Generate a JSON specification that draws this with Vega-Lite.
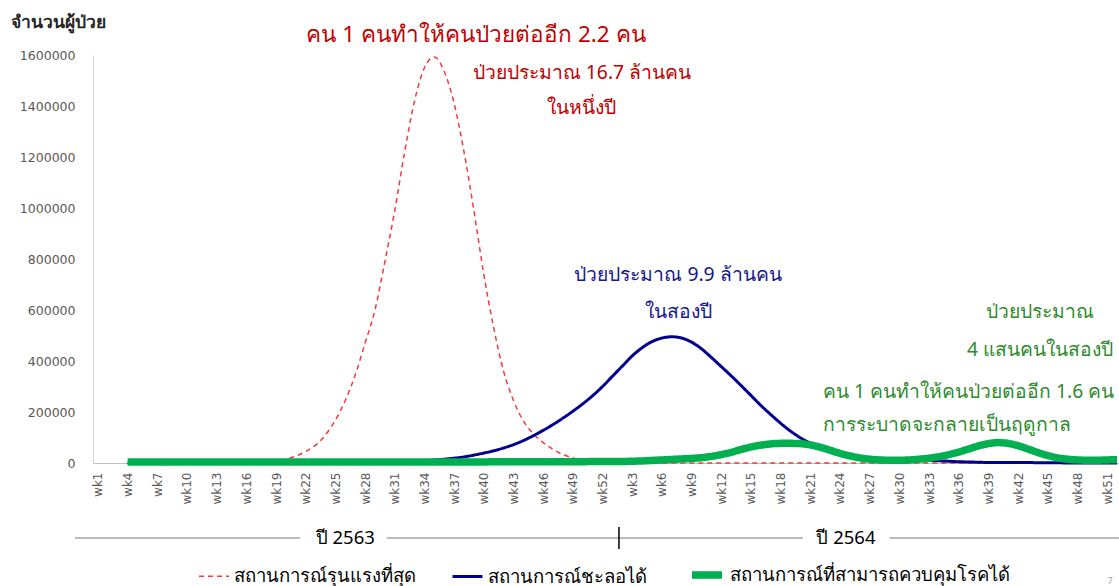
{
  "$schema": "https://vega.github.io/schema/vega-lite/v6.json",
  "width": 1026,
  "height": 408,
  "autosize": {"type": "none"},
  "padding": {"left": 93, "top": 55, "right": 0, "bottom": 123},
  "background": "white",
  "config": {"view": {"stroke": null}, "font": "Noto Sans"},
  "datasets": {
    "weekly": [
      {"t":4,"สถานการณ์รุนแรงที่สุด":0,"สถานการณ์ชะลอได้":0,"สถานการณ์ที่สามารถควบคุมโรคได้":4000},
      {"t":5,"สถานการณ์รุนแรงที่สุด":0,"สถานการณ์ชะลอได้":0,"สถานการณ์ที่สามารถควบคุมโรคได้":4000},
      {"t":6,"สถานการณ์รุนแรงที่สุด":0,"สถานการณ์ชะลอได้":0,"สถานการณ์ที่สามารถควบคุมโรคได้":4000},
      {"t":7,"สถานการณ์รุนแรงที่สุด":0,"สถานการณ์ชะลอได้":0,"สถานการณ์ที่สามารถควบคุมโรคได้":4000},
      {"t":8,"สถานการณ์รุนแรงที่สุด":0,"สถานการณ์ชะลอได้":0,"สถานการณ์ที่สามารถควบคุมโรคได้":4000},
      {"t":9,"สถานการณ์รุนแรงที่สุด":0,"สถานการณ์ชะลอได้":0,"สถานการณ์ที่สามารถควบคุมโรคได้":4000},
      {"t":10,"สถานการณ์รุนแรงที่สุด":0,"สถานการณ์ชะลอได้":0,"สถานการณ์ที่สามารถควบคุมโรคได้":4000},
      {"t":11,"สถานการณ์รุนแรงที่สุด":0,"สถานการณ์ชะลอได้":0,"สถานการณ์ที่สามารถควบคุมโรคได้":4000},
      {"t":12,"สถานการณ์รุนแรงที่สุด":0,"สถานการณ์ชะลอได้":0,"สถานการณ์ที่สามารถควบคุมโรคได้":4000},
      {"t":13,"สถานการณ์รุนแรงที่สุด":0,"สถานการณ์ชะลอได้":0,"สถานการณ์ที่สามารถควบคุมโรคได้":4000},
      {"t":14,"สถานการณ์รุนแรงที่สุด":0,"สถานการณ์ชะลอได้":0,"สถานการณ์ที่สามารถควบคุมโรคได้":4000},
      {"t":15,"สถานการณ์รุนแรงที่สุด":1000,"สถานการณ์ชะลอได้":0,"สถานการณ์ที่สามารถควบคุมโรคได้":4000},
      {"t":16,"สถานการณ์รุนแรงที่สุด":2000,"สถานการณ์ชะลอได้":0,"สถานการณ์ที่สามารถควบคุมโรคได้":4000},
      {"t":17,"สถานการณ์รุนแรงที่สุด":3000,"สถานการณ์ชะลอได้":0,"สถานการณ์ที่สามารถควบคุมโรคได้":4000},
      {"t":18,"สถานการณ์รุนแรงที่สุด":5000,"สถานการณ์ชะลอได้":0,"สถานการณ์ที่สามารถควบคุมโรคได้":4000},
      {"t":19,"สถานการณ์รุนแรงที่สุด":9000,"สถานการณ์ชะลอได้":0,"สถานการณ์ที่สามารถควบคุมโรคได้":4000},
      {"t":20,"สถานการณ์รุนแรงที่สุด":15000,"สถานการณ์ชะลอได้":0,"สถานการณ์ที่สามารถควบคุมโรคได้":4000},
      {"t":21,"สถานการณ์รุนแรงที่สุด":27000,"สถานการณ์ชะลอได้":0,"สถานการณ์ที่สามารถควบคุมโรคได้":4000},
      {"t":22,"สถานการณ์รุนแรงที่สุด":45000,"สถานการณ์ชะลอได้":0,"สถานการณ์ที่สามารถควบคุมโรคได้":4000},
      {"t":23,"สถานการณ์รุนแรงที่สุด":70000,"สถานการณ์ชะลอได้":0,"สถานการณ์ที่สามารถควบคุมโรคได้":4000},
      {"t":24,"สถานการณ์รุนแรงที่สุด":110000,"สถานการณ์ชะลอได้":0,"สถานการณ์ที่สามารถควบคุมโรคได้":4000},
      {"t":25,"สถานการณ์รุนแรงที่สุด":168000,"สถานการณ์ชะลอได้":0,"สถานการณ์ที่สามารถควบคุมโรคได้":4000},
      {"t":26,"สถานการณ์รุนแรงที่สุด":245000,"สถานการณ์ชะลอได้":0,"สถานการณ์ที่สามารถควบคุมโรคได้":4000},
      {"t":27,"สถานการณ์รุนแรงที่สุด":345000,"สถานการณ์ชะลอได้":0,"สถานการณ์ที่สามารถควบคุมโรคได้":4000},
      {"t":28,"สถานการณ์รุนแรงที่สุด":470000,"สถานการณ์ชะลอได้":1000,"สถานการณ์ที่สามารถควบคุมโรคได้":4000},
      {"t":29,"สถานการณ์รุนแรงที่สุด":600000,"สถานการณ์ชะลอได้":2000,"สถานการณ์ที่สามารถควบคุมโรคได้":4000},
      {"t":30,"สถานการณ์รุนแรงที่สุด":790000,"สถานการณ์ชะลอได้":3000,"สถานการณ์ที่สามารถควบคุมโรคได้":4000},
      {"t":31,"สถานการณ์รุนแรงที่สุด":990000,"สถานการณ์ชะลอได้":4000,"สถานการณ์ที่สามารถควบคุมโรคได้":4000},
      {"t":32,"สถานการณ์รุนแรงที่สุด":1220000,"สถานการณ์ชะลอได้":5000,"สถานการณ์ที่สามารถควบคุมโรคได้":4000},
      {"t":33,"สถานการณ์รุนแรงที่สุด":1420000,"สถานการณ์ชะลอได้":7000,"สถานการณ์ที่สามารถควบคุมโรคได้":4000},
      {"t":34,"สถานการณ์รุนแรงที่สุด":1550000,"สถานการณ์ชะลอได้":9000,"สถานการณ์ที่สามารถควบคุมโรคได้":4000},
      {"t":35,"สถานการณ์รุนแรงที่สุด":1592000,"สถานการณ์ชะลอได้":12000,"สถานการณ์ที่สามารถควบคุมโรคได้":4000},
      {"t":36,"สถานการณ์รุนแรงที่สุด":1535000,"สถานการณ์ชะลอได้":15000,"สถานการณ์ที่สามารถควบคุมโรคได้":4000},
      {"t":37,"สถานการณ์รุนแรงที่สุด":1410000,"สถานการณ์ชะลอได้":19000,"สถานการณ์ที่สามารถควบคุมโรคได้":4000},
      {"t":38,"สถานการณ์รุนแรงที่สุด":1220000,"สถานการณ์ชะลอได้":24000,"สถานการณ์ที่สามารถควบคุมโรคได้":4000},
      {"t":39,"สถานการณ์รุนแรงที่สุด":990000,"สถานการณ์ชะลอได้":31000,"สถานการณ์ที่สามารถควบคุมโรคได้":4000},
      {"t":40,"สถานการณ์รุนแรงที่สุด":740000,"สถานการณ์ชะลอได้":39000,"สถานการณ์ที่สามารถควบคุมโรคได้":4000},
      {"t":41,"สถานการณ์รุนแรงที่สุด":530000,"สถานการณ์ชะลอได้":48000,"สถานการณ์ที่สามารถควบคุมโรคได้":5000},
      {"t":42,"สถานการณ์รุนแรงที่สุด":360000,"สถานการณ์ชะลอได้":59000,"สถานการณ์ที่สามารถควบคุมโรคได้":5000},
      {"t":43,"สถานการณ์รุนแรงที่สุด":245000,"สถานการณ์ชะลอได้":72000,"สถานการณ์ที่สามารถควบคุมโรคได้":5000},
      {"t":44,"สถานการณ์รุนแรงที่สุด":165000,"สถานการณ์ชะลอได้":88000,"สถานการณ์ที่สามารถควบคุมโรคได้":5000},
      {"t":45,"สถานการณ์รุนแรงที่สุด":115000,"สถานการณ์ชะลอได้":107000,"สถานการณ์ที่สามารถควบคุมโรคได้":5000},
      {"t":46,"สถานการณ์รุนแรงที่สุด":80000,"สถานการณ์ชะลอได้":128000,"สถานการณ์ที่สามารถควบคุมโรคได้":5000},
      {"t":47,"สถานการณ์รุนแรงที่สุด":53000,"สถานการณ์ชะลอได้":151000,"สถานการณ์ที่สามารถควบคุมโรคได้":5000},
      {"t":48,"สถานการณ์รุนแรงที่สุด":33000,"สถานการณ์ชะลอได้":176000,"สถานการณ์ที่สามารถควบคุมโรคได้":5000},
      {"t":49,"สถานการณ์รุนแรงที่สุด":20000,"สถานการณ์ชะลอได้":203000,"สถานการณ์ที่สามารถควบคุมโรคได้":5000},
      {"t":50,"สถานการณ์รุนแรงที่สุด":12000,"สถานการณ์ชะลอได้":232000,"สถานการณ์ที่สามารถควบคุมโรคได้":5000},
      {"t":51,"สถานการณ์รุนแรงที่สุด":6000,"สถานการณ์ชะลอได้":264000,"สถานการณ์ที่สามารถควบคุมโรคได้":6000},
      {"t":52,"สถานการณ์รุนแรงที่สุด":3000,"สถานการณ์ชะลอได้":300000,"สถานการณ์ที่สามารถควบคุมโรคได้":6000},
      {"t":53,"สถานการณ์รุนแรงที่สุด":1000,"สถานการณ์ชะลอได้":340000,"สถานการณ์ที่สามารถควบคุมโรคได้":6000},
      {"t":54,"สถานการณ์รุนแรงที่สุด":0,"สถานการณ์ชะลอได้":380000,"สถานการณ์ที่สามารถควบคุมโรคได้":6000},
      {"t":55,"สถานการณ์รุนแรงที่สุด":0,"สถานการณ์ชะลอได้":420000,"สถานการณ์ที่สามารถควบคุมโรคได้":7000},
      {"t":56,"สถานการณ์รุนแรงที่สุด":0,"สถานการณ์ชะลอได้":452000,"สถานการณ์ที่สามารถควบคุมโรคได้":8000},
      {"t":57,"สถานการณ์รุนแรงที่สุด":0,"สถานการณ์ชะลอได้":476000,"สถานการณ์ที่สามารถควบคุมโรคได้":10000},
      {"t":58,"สถานการณ์รุนแรงที่สุด":0,"สถานการณ์ชะลอได้":490000,"สถานการณ์ที่สามารถควบคุมโรคได้":12000},
      {"t":59,"สถานการณ์รุนแรงที่สุด":0,"สถานการณ์ชะลอได้":495000,"สถานการณ์ที่สามารถควบคุมโรคได้":14000},
      {"t":60,"สถานการณ์รุนแรงที่สุด":0,"สถานการณ์ชะลอได้":490000,"สถานการณ์ที่สามารถควบคุมโรคได้":16000},
      {"t":61,"สถานการณ์รุนแรงที่สุด":0,"สถานการณ์ชะลอได้":474000,"สถานการณ์ที่สามารถควบคุมโรคได้":18000},
      {"t":62,"สถานการณ์รุนแรงที่สุด":0,"สถานการณ์ชะลอได้":448000,"สถานการณ์ที่สามารถควบคุมโรคได้":21000},
      {"t":63,"สถานการณ์รุนแรงที่สุด":0,"สถานการณ์ชะลอได้":414000,"สถานการณ์ที่สามารถควบคุมโรคได้":26000},
      {"t":64,"สถานการณ์รุนแรงที่สุด":0,"สถานการณ์ชะลอได้":378000,"สถานการณ์ที่สามารถควบคุมโรคได้":33000},
      {"t":65,"สถานการณ์รุนแรงที่สุด":0,"สถานการณ์ชะลอได้":342000,"สถานการณ์ที่สามารถควบคุมโรคได้":42000},
      {"t":66,"สถานการณ์รุนแรงที่สุด":0,"สถานการณ์ชะลอได้":304000,"สถานการณ์ที่สามารถควบคุมโรคได้":53000},
      {"t":67,"สถานการณ์รุนแรงที่สุด":0,"สถานการณ์ชะลอได้":265000,"สถานการณ์ที่สามารถควบคุมโรคได้":63000},
      {"t":68,"สถานการณ์รุนแรงที่สุด":0,"สถานการณ์ชะลอได้":226000,"สถานการณ์ที่สามารถควบคุมโรคได้":70000},
      {"t":69,"สถานการณ์รุนแรงที่สุด":0,"สถานการณ์ชะลอได้":190000,"สถานการณ์ที่สามารถควบคุมโรคได้":75000},
      {"t":70,"สถานการณ์รุนแรงที่สุด":0,"สถานการณ์ชะลอได้":156000,"สถานการณ์ที่สามารถควบคุมโรคได้":77000},
      {"t":71,"สถานการณ์รุนแรงที่สุด":0,"สถานการณ์ชะลอได้":125000,"สถานการณ์ที่สามารถควบคุมโรคได้":77000},
      {"t":72,"สถานการณ์รุนแรงที่สุด":0,"สถานการณ์ชะลอได้":99000,"สถานการณ์ที่สามารถควบคุมโรคได้":76000},
      {"t":73,"สถานการณ์รุนแรงที่สุด":0,"สถานการณ์ชะลอได้":78000,"สถานการณ์ที่สามารถควบคุมโรคได้":71000},
      {"t":74,"สถานการณ์รุนแรงที่สุด":0,"สถานการณ์ชะลอได้":62000,"สถานการณ์ที่สามารถควบคุมโรคได้":62000},
      {"t":75,"สถานการณ์รุนแรงที่สุด":0,"สถานการณ์ชะลอได้":49000,"สถานการณ์ที่สามารถควบคุมโรคได้":50000},
      {"t":76,"สถานการณ์รุนแรงที่สุด":0,"สถานการณ์ชะลอได้":39000,"สถานการณ์ที่สามารถควบคุมโรคได้":38000},
      {"t":77,"สถานการณ์รุนแรงที่สุด":0,"สถานการณ์ชะลอได้":31000,"สถานการณ์ที่สามารถควบคุมโรคได้":28000},
      {"t":78,"สถานการณ์รุนแรงที่สุด":0,"สถานการณ์ชะลอได้":25000,"สถานการณ์ที่สามารถควบคุมโรคได้":20000},
      {"t":79,"สถานการณ์รุนแรงที่สุด":0,"สถานการณ์ชะลอได้":21000,"สถานการณ์ที่สามารถควบคุมโรคได้":15000},
      {"t":80,"สถานการณ์รุนแรงที่สุด":0,"สถานการณ์ชะลอได้":18000,"สถานการณ์ที่สามารถควบคุมโรคได้":12000},
      {"t":81,"สถานการณ์รุนแรงที่สุด":0,"สถานการณ์ชะลอได้":17000,"สถานการณ์ที่สามารถควบคุมโรคได้":11000},
      {"t":82,"สถานการณ์รุนแรงที่สุด":0,"สถานการณ์ชะลอได้":16000,"สถานการณ์ที่สามารถควบคุมโรคได้":11000},
      {"t":83,"สถานการณ์รุนแรงที่สุด":0,"สถานการณ์ชะลอได้":15000,"สถานการณ์ที่สามารถควบคุมโรคได้":12000},
      {"t":84,"สถานการณ์รุนแรงที่สุด":0,"สถานการณ์ชะลอได้":13000,"สถานการณ์ที่สามารถควบคุมโรคได้":15000},
      {"t":85,"สถานการณ์รุนแรงที่สุด":0,"สถานการณ์ชะลอได้":11000,"สถานการณ์ที่สามารถควบคุมโรคได้":19000},
      {"t":86,"สถานการณ์รุนแรงที่สุด":0,"สถานการณ์ชะลอได้":9000,"สถานการณ์ที่สามารถควบคุมโรคได้":25000},
      {"t":87,"สถานการณ์รุนแรงที่สุด":0,"สถานการณ์ชะลอได้":7000,"สถานการณ์ที่สามารถควบคุมโรคได้":33000},
      {"t":88,"สถานการณ์รุนแรงที่สุด":0,"สถานการณ์ชะลอได้":5000,"สถานการณ์ที่สามารถควบคุมโรคได้":43000},
      {"t":89,"สถานการณ์รุนแรงที่สุด":0,"สถานการณ์ชะลอได้":4000,"สถานการณ์ที่สามารถควบคุมโรคได้":55000},
      {"t":90,"สถานการณ์รุนแรงที่สุด":0,"สถานการณ์ชะลอได้":3000,"สถานการณ์ที่สามารถควบคุมโรคได้":67000},
      {"t":91,"สถานการณ์รุนแรงที่สุด":0,"สถานการณ์ชะลอได้":2000,"สถานการณ์ที่สามารถควบคุมโรคได้":76000},
      {"t":92,"สถานการณ์รุนแรงที่สุด":0,"สถานการณ์ชะลอได้":2000,"สถานการณ์ที่สามารถควบคุมโรคได้":80000},
      {"t":93,"สถานการณ์รุนแรงที่สุด":0,"สถานการณ์ชะลอได้":2000,"สถานการณ์ที่สามารถควบคุมโรคได้":77000},
      {"t":94,"สถานการณ์รุนแรงที่สุด":0,"สถานการณ์ชะลอได้":2000,"สถานการณ์ที่สามารถควบคุมโรคได้":68000},
      {"t":95,"สถานการณ์รุนแรงที่สุด":0,"สถานการณ์ชะลอได้":2000,"สถานการณ์ที่สามารถควบคุมโรคได้":55000},
      {"t":96,"สถานการณ์รุนแรงที่สุด":0,"สถานการณ์ชะลอได้":1000,"สถานการณ์ที่สามารถควบคุมโรคได้":41000},
      {"t":97,"สถานการณ์รุนแรงที่สุด":0,"สถานการณ์ชะลอได้":1000,"สถานการณ์ที่สามารถควบคุมโรคได้":29000},
      {"t":98,"สถานการณ์รุนแรงที่สุด":0,"สถานการณ์ชะลอได้":1000,"สถานการณ์ที่สามารถควบคุมโรคได้":20000},
      {"t":99,"สถานการณ์รุนแรงที่สุด":0,"สถานการณ์ชะลอได้":0,"สถานการณ์ที่สามารถควบคุมโรคได้":15000},
      {"t":100,"สถานการณ์รุนแรงที่สุด":0,"สถานการณ์ชะลอได้":0,"สถานการณ์ที่สามารถควบคุมโรคได้":12000},
      {"t":101,"สถานการณ์รุนแรงที่สุด":0,"สถานการณ์ชะลอได้":0,"สถานการณ์ที่สามารถควบคุมโรคได้":11000},
      {"t":102,"สถานการณ์รุนแรงที่สุด":0,"สถานการณ์ชะลอได้":0,"สถานการณ์ที่สามารถควบคุมโรคได้":11000},
      {"t":103,"สถานการณ์รุนแรงที่สุด":0,"สถานการณ์ชะลอได้":0,"สถานการณ์ที่สามารถควบคุมโรคได้":12000},
      {"t":104,"สถานการณ์รุนแรงที่สุด":0,"สถานการณ์ชะลอได้":0,"สถานการณ์ที่สามารถควบคุมโรคได้":13000}
    ]
  },
  "layer": [
    {
      "data": {"name": "weekly"},
      "transform": [
        {"fold": ["สถานการณ์รุนแรงที่สุด", "สถานการณ์ชะลอได้", "สถานการณ์ที่สามารถควบคุมโรคได้"], "as": ["series", "value"]}
      ],
      "mark": {"type": "line", "interpolate": "monotone", "strokeCap": "butt"},
      "encoding": {
        "x": {
          "field": "t", "type": "quantitative",
          "scale": {"domain": [0.5, 104.2], "nice": false, "zero": false},
          "axis": {
            "title": null,
            "values": [1,4,7,10,13,16,19,22,25,28,31,34,37,40,43,46,49,52,55,58,61,64,67,70,73,76,79,82,85,88,91,94,97,100,103],
            "tickCount": 200,
            "labelExpr": "'wk' + (datum.value > 52 ? datum.value - 52 : datum.value)",
            "labelAngle": -90,
            "labelFont": "DejaVu Sans",
            "labelFontSize": 12,
            "labelColor": "#595959",
            "labelPadding": 9,
            "ticks": false,
            "grid": false,
            "domainColor": "#BFBFBF",
            "domainWidth": 1,
            "labelOverlap": false
          }
        },
        "y": {
          "field": "value", "type": "quantitative",
          "scale": {"domain": [0, 1600000], "nice": false},
          "axis": {
            "values": [0,200000,400000,600000,800000,1000000,1200000,1400000,1600000],
            "tickCount": 50,
            "format": "d",
            "labelFont": "DejaVu Sans",
            "labelFontSize": 12.5,
            "labelColor": "#595959",
            "labelPadding": 18,
            "ticks": false,
            "grid": false,
            "domainColor": "#D9D9D9",
            "title": "จำนวนผู้ป่วย",
            "titleAngle": 0,
            "titleAlign": "left",
            "titleBaseline": "middle",
            "titleX": -83,
            "titleY": -33,
            "titleFontSize": 17.5,
            "titleFontWeight": "bold",
            "titleColor": "#262626"
          }
        },
        "color": {
          "field": "series", "type": "nominal",
          "scale": {"domain": ["สถานการณ์รุนแรงที่สุด", "สถานการณ์ชะลอได้", "สถานการณ์ที่สามารถควบคุมโรคได้"], "range": ["#F23A3A", "#00008F", "#00B050"]},
          "legend": {
            "orient": "none", "legendX": 105, "legendY": 501, "direction": "horizontal",
            "title": null, "symbolType": "stroke", "symbolSize": 900,
            "labelFontSize": 18.5, "labelColor": "#000000", "labelLimit": 600,
            "columnPadding": 30, "labelOffset": 4
          }
        },
        "strokeDash": {
          "field": "series", "type": "nominal",
          "scale": {"domain": ["สถานการณ์รุนแรงที่สุด", "สถานการณ์ชะลอได้", "สถานการณ์ที่สามารถควบคุมโรคได้"], "range": [[5,4],[1,0],[1,0]]},
          "legend": {
            "orient": "none", "legendX": 105, "legendY": 501, "direction": "horizontal",
            "title": null, "symbolType": "stroke", "symbolSize": 900,
            "labelFontSize": 18.5, "labelColor": "#000000", "labelLimit": 600,
            "columnPadding": 30, "labelOffset": 4
          }
        },
        "strokeWidth": {
          "field": "series", "type": "nominal",
          "scale": {"type": "ordinal", "domain": ["สถานการณ์รุนแรงที่สุด", "สถานการณ์ชะลอได้", "สถานการณ์ที่สามารถควบคุมโรคได้"], "range": [1.5, 3, 7.5]},
          "legend": {
            "orient": "none", "legendX": 105, "legendY": 501, "direction": "horizontal",
            "title": null, "symbolType": "stroke", "symbolSize": 900,
            "labelFontSize": 18.5, "labelColor": "#000000", "labelLimit": 600,
            "columnPadding": 30, "labelOffset": 4
          }
        }
      }
    },
    {
      "data": {"values": [
        {"t1": -1.32, "t2": 21.42, "v": -294000},
        {"t1": 30.2, "t2": 72.26, "v": -294000},
        {"t1": 81.0, "t2": 104.2, "v": -294000}
      ]},
      "mark": {"type": "rule", "color": "#A6A6A6", "strokeWidth": 1.5},
      "encoding": {
        "x": {"field": "t1", "type": "quantitative", "scale": {"domain": [0.5, 104.2], "nice": false, "zero": false}},
        "x2": {"field": "t2"},
        "y": {"field": "v", "type": "quantitative", "scale": {"domain": [0, 1600000], "nice": false}}
      }
    },
    {
      "data": {"values": [{"t": 53.66, "v1": -251000, "v2": -337000}]},
      "mark": {"type": "rule", "color": "#000000", "strokeWidth": 1.5},
      "encoding": {
        "x": {"field": "t", "type": "quantitative", "scale": {"domain": [0.5, 104.2], "nice": false, "zero": false}},
        "y": {"field": "v1", "type": "quantitative", "scale": {"domain": [0, 1600000], "nice": false}},
        "y2": {"field": "v2"}
      }
    },
    {
      "data": {"values": [
        {"t": 26.0, "v": -294000, "label": "ปี 2563"},
        {"t": 76.6, "v": -294000, "label": "ปี 2564"}
      ]},
      "mark": {"type": "text", "fontSize": 18.5, "color": "#000000", "align": "center", "baseline": "middle"},
      "encoding": {
        "x": {"field": "t", "type": "quantitative", "scale": {"domain": [0.5, 104.2], "nice": false, "zero": false}},
        "y": {"field": "v", "type": "quantitative", "scale": {"domain": [0, 1600000], "nice": false}},
        "text": {"field": "label"}
      }
    },
    {
      "data": {"values": [{"t": 103.3, "v": -462000, "label": "7"}]},
      "mark": {"type": "text", "fontSize": 9, "color": "#A6A6A6", "align": "center", "baseline": "middle"},
      "encoding": {
        "x": {"field": "t", "type": "quantitative", "scale": {"domain": [0.5, 104.2], "nice": false, "zero": false}},
        "y": {"field": "v", "type": "quantitative", "scale": {"domain": [0, 1600000], "nice": false}},
        "text": {"field": "label"}
      }
    },
    {
      "data": {"values": [
        {"t": 39.21, "v": 1678600, "label": "คน 1 คนทำให้คนป่วยต่ออีก 2.2 คน"}
      ]},
      "mark": {"type": "text", "fontSize": 22.5, "color": "#C00000", "align": "center", "baseline": "middle"},
      "encoding": {
        "x": {"field": "t", "type": "quantitative", "scale": {"domain": [0.5, 104.2], "nice": false, "zero": false}},
        "y": {"field": "v", "type": "quantitative", "scale": {"domain": [0, 1600000], "nice": false}},
        "text": {"field": "label"}
      }
    },
    {
      "data": {"values": [
        {"t": 49.92, "v": 1529600, "label": "ป่วยประมาณ 16.7 ล้านคน"},
        {"t": 49.92, "v": 1392300, "label": "ในหนึ่งปี"}
      ]},
      "mark": {"type": "text", "fontSize": 19.3, "color": "#C00000", "align": "center", "baseline": "middle"},
      "encoding": {
        "x": {"field": "t", "type": "quantitative", "scale": {"domain": [0.5, 104.2], "nice": false, "zero": false}},
        "y": {"field": "v", "type": "quantitative", "scale": {"domain": [0, 1600000], "nice": false}},
        "text": {"field": "label"}
      }
    },
    {
      "data": {"values": [
        {"t": 59.63, "v": 737300, "label": "ป่วยประมาณ 9.9 ล้านคน"},
        {"t": 59.63, "v": 592200, "label": "ในสองปี"}
      ]},
      "mark": {"type": "text", "fontSize": 19.3, "color": "#16168F", "align": "center", "baseline": "middle"},
      "encoding": {
        "x": {"field": "t", "type": "quantitative", "scale": {"domain": [0.5, 104.2], "nice": false, "zero": false}},
        "y": {"field": "v", "type": "quantitative", "scale": {"domain": [0, 1600000], "nice": false}},
        "text": {"field": "label"}
      }
    },
    {
      "data": {"values": [
        {"t": 96.21, "v": 592200, "label": "ป่วยประมาณ"},
        {"t": 96.21, "v": 443200, "label": "4 แสนคนในสองปี"}
      ]},
      "mark": {"type": "text", "fontSize": 19.3, "color": "#2E8B2E", "align": "center", "baseline": "middle"},
      "encoding": {
        "x": {"field": "t", "type": "quantitative", "scale": {"domain": [0.5, 104.2], "nice": false, "zero": false}},
        "y": {"field": "v", "type": "quantitative", "scale": {"domain": [0, 1600000], "nice": false}},
        "text": {"field": "label"}
      }
    },
    {
      "data": {"values": [
        {"t": 74.28, "v": 278500, "label": "คน 1 คนทำให้คนป่วยต่ออีก 1.6 คน"},
        {"t": 74.28, "v": 149000, "label": "การระบาดจะกลายเป็นฤดูกาล"}
      ]},
      "mark": {"type": "text", "fontSize": 19.3, "color": "#2E8B2E", "align": "left", "baseline": "middle"},
      "encoding": {
        "x": {"field": "t", "type": "quantitative", "scale": {"domain": [0.5, 104.2], "nice": false, "zero": false}},
        "y": {"field": "v", "type": "quantitative", "scale": {"domain": [0, 1600000], "nice": false}},
        "text": {"field": "label"}
      }
    }
  ]
}
